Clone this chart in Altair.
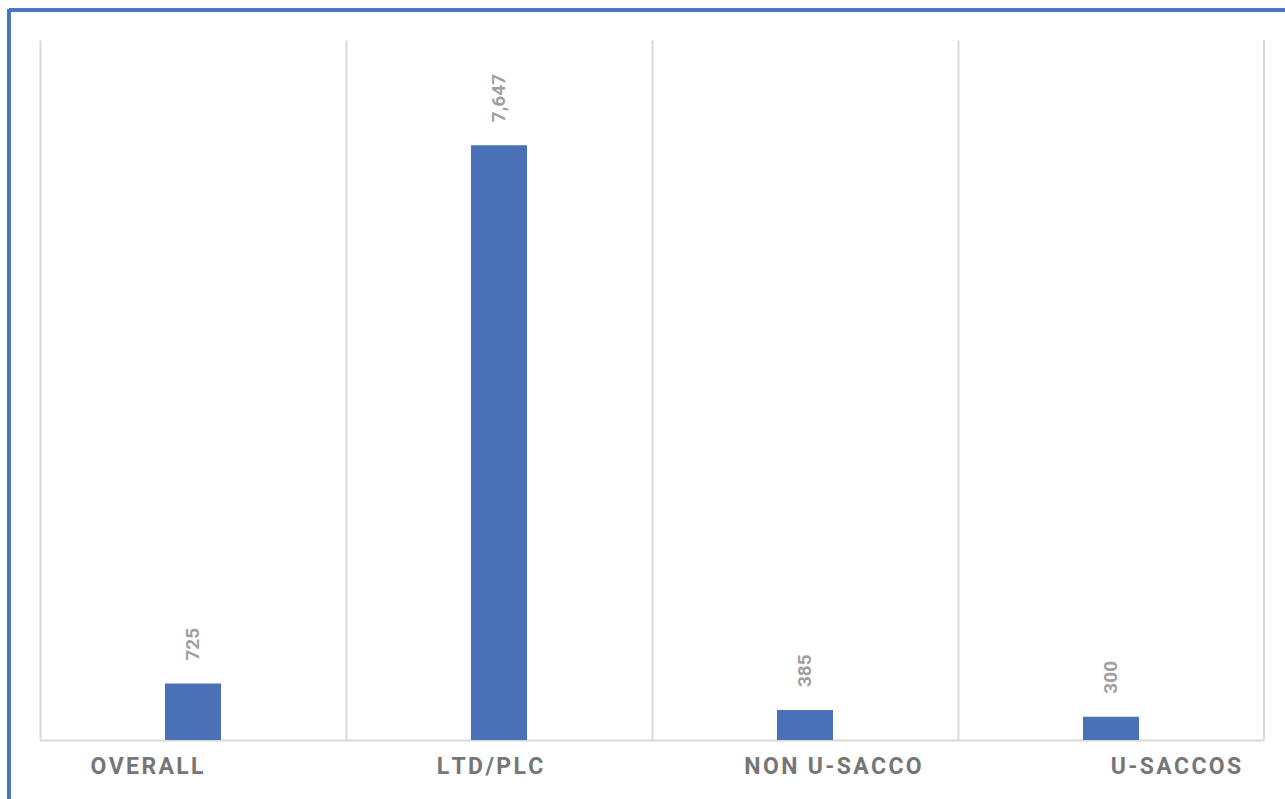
import altair as alt
import pandas as pd

# Average values per institution type
categories = ["OVERALL", "LTD/PLC", "NON U-SACCO", "U-SACCOS"]
values = [725, 7647, 385, 300]
value_labels = ["725", "7,647", "385", "300"]

# Category labels are drawn letter-spaced (hair space between characters)
spaced = ["\u200a".join(c) for c in categories]

df = pd.DataFrame({"category": categories, "value": values,
                   "label": value_labels, "shown": spaced})

W, H = 1224, 700
BLUE = "#4a71b7"
GRID = "#d9d9d9"

base = alt.Chart(df)

x_bars = alt.X(
    "category:N",
    sort=categories,
    scale=alt.Scale(paddingInner=0, paddingOuter=0),
    axis=alt.Axis(
        title=None, labels=False, ticks=False, grid=True, bandPosition=0,
        gridColor=GRID, gridWidth=2, domain=True, domainColor=GRID, domainWidth=2,
    ),
)
y_val = alt.Y("value:Q", scale=alt.Scale(domain=[0, 9000]), axis=None)

bars = base.mark_bar(width={"band": 0.183}, color=BLUE).encode(x=x_bars, y=y_val)

values_text = base.mark_text(
    angle=270, align="left", baseline="middle", dx=23,
    font="Roboto", fontWeight="bold", fontSize=19, color="#a0a0a0",
).encode(x=alt.X("category:N", sort=categories), y=y_val, text="label:N")

right_edge = base.mark_rule(color=GRID, strokeWidth=2).encode(
    x=alt.value(W), y=alt.value(0), y2=alt.value(H)
)

cat_text = base.mark_text(
    align="center", baseline="middle",
    font="Roboto", fontWeight="bold", fontSize=23, color="#767676",
).encode(
    x=alt.X("category:N", sort=categories,
            scale=alt.Scale(range=[-64.5, 1307.5], paddingInner=0, paddingOuter=0),
            axis=None),
    y=alt.value(727),
    text="shown:N",
)

frame_top = base.mark_rule(color="#4472c4", strokeWidth=3).encode(
    x=alt.value(-31), x2=alt.value(W + 80), y=alt.value(-30)
)
frame_left = base.mark_rule(color="#4472c4", strokeWidth=3).encode(
    x=alt.value(-31), y=alt.value(-31), y2=alt.value(H + 80)
)

chart = (
    alt.layer(alt.layer(bars, values_text), cat_text, right_edge, frame_top, frame_left)
    .resolve_scale(x="independent")
    .properties(width=W, height=H, padding={"left": 40, "top": 40, "right": 21, "bottom": 59},
                autosize=alt.AutoSizeParams(type="none"), background="white")
    .configure_view(stroke=None)
)

chart.save("out.html", embed_options={"renderer": "svg", "actions": False})
